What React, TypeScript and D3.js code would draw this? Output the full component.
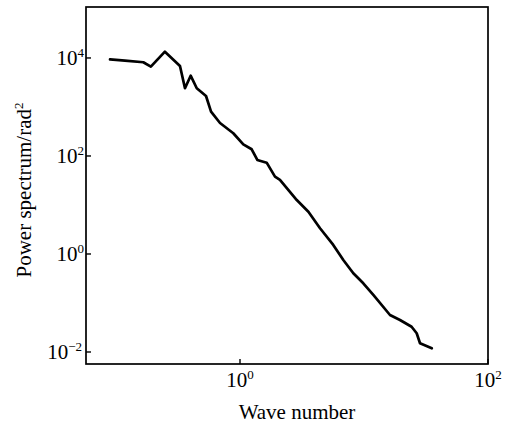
import React from "react";
import * as d3 from "d3";

const waveNumber = [
  0.0895, 0.118, 0.166, 0.191, 0.248, 0.328, 0.36, 0.4, 0.448, 0.532, 0.584, 0.69,
  0.883, 1.063, 1.242, 1.379, 1.641, 1.915, 2.1, 2.87, 3.56, 4.42, 5.65, 6.81,
  8.2, 9.87, 11.89, 16.2, 19.5, 24.2, 26.6, 28.3, 35.2,
];
const powerSpectrum = [
  9400, 8810, 8170, 6640, 13450, 6870, 2410, 4350, 2410, 1677, 802, 471,
  291, 173, 137, 82.9, 73, 37.8, 32.4, 12.6, 7.3, 3.35, 1.53, 0.755,
  0.404, 0.252, 0.146, 0.0569, 0.045, 0.0328, 0.0241, 0.0151, 0.0119,
];
const xTicks = [1, 100];
const xTickExp = ["0", "2"];
const yTicks = [0.01, 1, 100, 10000];
const yTickExp = ["\u22122", "0", "2", "4"];

const W = 513;
const H = 425;
const left = 86;
const right = 488;
const top = 7;
const bottom = 364;
const serif = "'Liberation Serif', 'Times New Roman', serif";

export default function App() {
  const x = d3.scaleLog().domain([Math.pow(10, -1.242), 100]).range([left, right]);
  const y = d3.scaleLog().domain([Math.pow(10, -2.245), Math.pow(10, 5.04)]).range([bottom, top]);
  const pts = waveNumber.map((w, i) => [w, powerSpectrum[i]] as [number, number]);
  const line = d3
    .line<[number, number]>()
    .x((d) => x(d[0]))
    .y((d) => y(d[1]));

  return (
    <svg
      width={W}
      height={H}
      style={{ position: "absolute", left: 0, top: 0, background: "#fff" }}
      fontFamily={serif}
    >
      <rect x={0} y={0} width={W} height={H} fill="#fff" />
      <rect
        x={left}
        y={top}
        width={right - left}
        height={bottom - top}
        fill="none"
        stroke="#000"
        strokeWidth={1.7}
      />
      {yTicks.map((t, i) => (
        <g key={"y" + i}>
          <line x1={left} x2={left + 5} y1={y(t)} y2={y(t)} stroke="#000" strokeWidth={1.4} />
          <text x={i === 0 ? 82 : 84} y={y(t) + 7} textAnchor="end" fontSize={21} fill="#000">
            10
            <tspan fontSize={13} dy={-8}>
              {yTickExp[i]}
            </tspan>
          </text>
        </g>
      ))}
      {xTicks.map((t, i) => (
        <g key={"x" + i}>
          <line x1={x(t)} x2={x(t)} y1={bottom} y2={bottom - 5} stroke="#000" strokeWidth={1.4} />
          <text x={x(t)} y={387} textAnchor="middle" fontSize={21} fill="#000">
            10
            <tspan fontSize={13} dy={-8}>
              {xTickExp[i]}
            </tspan>
          </text>
        </g>
      ))}
      <path
        d={line(pts) || ""}
        fill="none"
        stroke="#000"
        strokeWidth={2.7}
        strokeLinejoin="round"
        strokeLinecap="round"
      />
      <text x={297} y={419} textAnchor="middle" fontSize={21} fill="#000">
        Wave number
      </text>
      <text
        transform={`translate(31, 190) rotate(-90)`}
        textAnchor="middle"
        fontSize={21}
        fill="#000"
      >
        Power spectrum/rad
        <tspan fontSize={13} dy={-8}>
          2
        </tspan>
      </text>
    </svg>
  );
}
